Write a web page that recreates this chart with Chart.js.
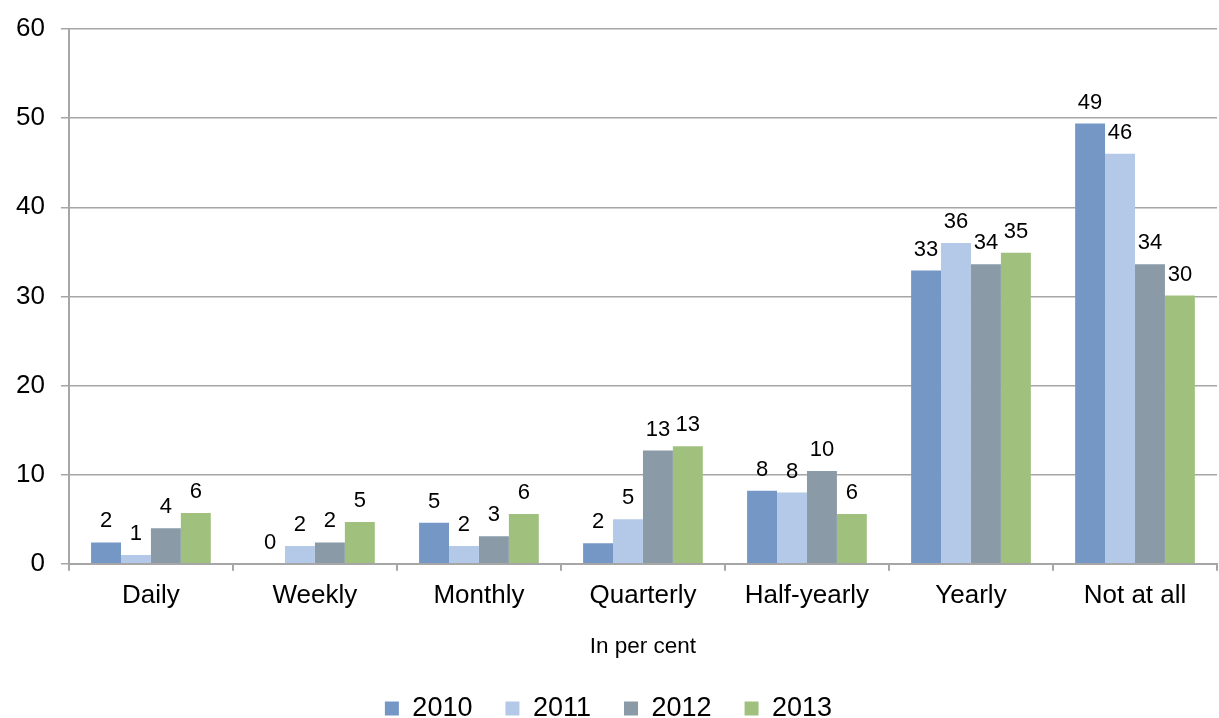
<!DOCTYPE html>
<html>
<head>
<meta charset="utf-8">
<script src="https://cdn.jsdelivr.net/npm/chart.js@4/dist/chart.umd.min.js"></script>
<style>
  html, body { margin: 0; padding: 0; background: #fff; }
  #wrap { width: 1219px; height: 718px; }
</style>
</head>
<body>
<div id="wrap"><canvas id="barChart"></canvas></div>
<script>
const categories = ['Daily', 'Weekly', 'Monthly', 'Quarterly', 'Half-yearly', 'Yearly', 'Not at all'];
const years = ['2010', '2011', '2012', '2013'];
const values2010 = [2.4, 0, 4.6, 2.3, 8.2, 32.9, 49.4];
const values2011 = [1.0, 2.0, 2.0, 5.0, 8.0, 36.0, 46.0];
const values2012 = [4.0, 2.4, 3.1, 12.7, 10.4, 33.6, 33.6];
const values2013 = [5.7, 4.7, 5.6, 13.2, 5.6, 34.9, 30.1];
const colors = ['#7497C6', '#B3C9E7', '#8A9AA6', '#A0C17D'];
const yTicks = [0, 10, 20, 30, 40, 50, 60];

const FONT = "'Liberation Sans', Arial, sans-serif";
const gridGray = '#A6A6A6';

// draws the rounded value above every bar
const valueLabels = {
    id: 'valueLabels',
    afterDatasetsDraw(chart) {
        const ctx = chart.ctx;
        ctx.save();
        ctx.font = '22px ' + FONT;
        ctx.fillStyle = '#000';
        ctx.textAlign = 'center';
        ctx.textBaseline = 'middle';
        chart.data.datasets.forEach((ds, i) => {
            const meta = chart.getDatasetMeta(i);
            meta.data.forEach((bar, j) => {
                ctx.fillText(Math.round(ds.data[j]), bar.x, bar.y - 21);
            });
        });
        ctx.restore();
    }
};

const seriesValues = [values2010, values2011, values2012, values2013];

new Chart(document.getElementById('barChart'), {
    type: 'bar',
    data: {
        labels: categories,
        datasets: years.map((y, i) => ({
            label: y,
            data: seriesValues[i],
            backgroundColor: colors[i],
            barPercentage: 1,
            categoryPercentage: 0.73
        }))
    },
    options: {
        responsive: true,
        maintainAspectRatio: false,
        animation: false,
        layout: { padding: { top: 0, left: 0, right: 2, bottom: -14 } },
        scales: {
            x: {
                grid: {
                    display: true,
                    drawOnChartArea: false,
                    drawTicks: true,
                    tickLength: 7,
                    color: gridGray,
                    lineWidth: 2
                },
                border: { display: true, color: gridGray, width: 2 },
                ticks: {
                    color: '#000',
                    font: { family: FONT, size: 26 },
                    padding: 9
                },
                title: {
                    display: true,
                    text: 'In per cent',
                    color: '#000',
                    font: { family: FONT, size: 22.5 },
                    padding: { top: 13, bottom: 2 }
                }
            },
            y: {
                min: 0,
                max: 60,
                afterBuildTicks(scale) {
                    scale.ticks = yTicks.map(v => ({ value: v }));
                },
                grid: {
                    color: gridGray,
                    lineWidth: 1.5,
                    drawTicks: true,
                    tickLength: 8
                },
                border: { display: true, color: gridGray, width: 2 },
                ticks: {
                    color: '#000',
                    font: { family: FONT, size: 26, lineHeight: 1 },
                    padding: 16
                }
            }
        },
        plugins: {
            legend: {
                position: 'bottom',
                labels: {
                    color: '#000',
                    font: { family: FONT, size: 27 },
                    boxWidth: 14,
                    boxHeight: 14,
                    padding: 33
                }
            },
            tooltip: { enabled: false },
            title: { display: false }
        }
    },
    plugins: [valueLabels]
});
</script>
</body>
</html>
